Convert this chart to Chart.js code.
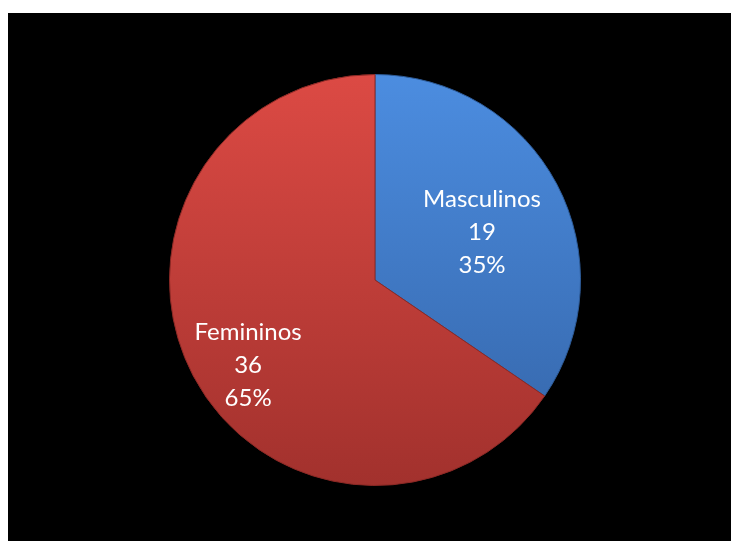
<!DOCTYPE html>
<html>
<head>
<meta charset="utf-8">
<script src="https://cdn.jsdelivr.net/npm/chart.js@4/dist/chart.umd.min.js"></script>
<style>
  html, body { margin: 0; padding: 0; background: #ffffff; }
  body { width: 731px; height: 541px; position: relative; overflow: hidden; }
  #frame { position: absolute; left: 8px; top: 13px; width: 723px; height: 528px; background: #000000; }
</style>
</head>
<body>
<div id="frame"><canvas id="pie" width="723" height="528"></canvas></div>
<script>
// Data
const categories = ['Masculinos', 'Femininos'];
const counts = [19, 36];
const percents = ['35%', '65%'];

// slice fills: top and bottom of the vertical gradient, plus edge colour
const fillTop = ['#4c8de0', '#dc4a44'];
const fillBottom = ['#3363a6', '#a2312d'];
const edgeColors = ['#2d5b98', '#8c2925'];

// where each label block sits: angle clockwise from 12 o'clock, fraction of radius
const labelSpots = [
  { angle: 66, r: 0.57 },
  { angle: 236, r: 0.745 }
];

function sliceGradient(context) {
  const chart = context.chart;
  const i = context.dataIndex;
  const area = chart.chartArea;
  if (!area) return fillTop[i];
  const g = chart.ctx.createLinearGradient(0, area.top, 0, area.bottom);
  g.addColorStop(0, fillTop[i]);
  g.addColorStop(1, fillBottom[i]);
  return g;
}

// writes name, count and percent inside each slice
const sliceLabels = {
  id: 'sliceLabels',
  afterDatasetsDraw(chart) {
    const ctx = chart.ctx;
    const meta = chart.getDatasetMeta(0);
    ctx.save();
    ctx.fillStyle = '#ffffff';
    ctx.font = '24px Lato, "Open Sans", sans-serif';
    ctx.textAlign = 'center';
    ctx.textBaseline = 'middle';
    meta.data.forEach((arc, i) => {
      const spot = labelSpots[i];
      const a = spot.angle * Math.PI / 180;
      const cx = arc.x + Math.sin(a) * arc.outerRadius * spot.r;
      const cy = arc.y - Math.cos(a) * arc.outerRadius * spot.r;
      const lines = [categories[i], String(counts[i]), percents[i]];
      lines.forEach((t, k) => {
        ctx.fillText(t, cx, cy + (k - 1) * 33);
      });
    });
    ctx.restore();
  }
};

new Chart(document.getElementById('pie'), {
  type: 'pie',
  data: {
    labels: categories,
    datasets: [{
      data: counts,
      backgroundColor: sliceGradient,
      borderColor: edgeColors,
      borderWidth: 1
    }]
  },
  options: {
    responsive: false,
    animation: false,
    rotation: 0,
    layout: { padding: { left: 161, right: 150, top: 61, bottom: 55 } },
    plugins: {
      legend: { display: false },
      tooltip: { enabled: false }
    }
  },
  plugins: [sliceLabels]
});
</script>
</body>
</html>
